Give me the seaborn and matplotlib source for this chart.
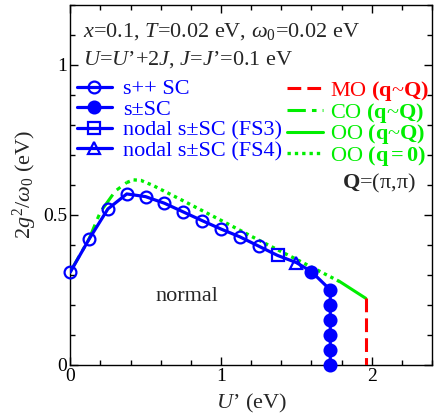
import matplotlib
matplotlib.use('Agg')
import matplotlib.pyplot as plt
from matplotlib.lines import Line2D
from matplotlib.ticker import MultipleLocator
import seaborn as sns
import pandas as pd

# superconducting phases (blue)
spp_x = [0, 0.125, 0.25, 0.375, 0.5, 0.625, 0.75, 0.875, 1.0, 1.125, 1.25]
spp_y = [0.309, 0.419, 0.52, 0.57, 0.561, 0.539, 0.51, 0.481, 0.453, 0.427, 0.396]
fs3_x = [1.375]
fs3_y = [0.365]
fs4_x = [1.5]
fs4_y = [0.341]
spm_x = [1.6, 1.725, 1.725, 1.725, 1.725, 1.725, 1.725]
spm_y = [0.311, 0.25, 0.2, 0.15, 0.1, 0.05, 0.0]

# orbital / charge / magnetic order boundaries
co_x = [0, 0.125, 0.2, 0.3, 0.375]
co_y = [0.31, 0.42, 0.51, 0.58, 0.608]
oo0_x = [0.375, 0.42, 0.47, 0.55, 0.75, 1.0, 1.25, 1.5, 1.79]
oo0_y = [0.608, 0.617, 0.615, 0.598, 0.547, 0.482, 0.416, 0.352, 0.277]
ooq_x = [1.79, 1.96]
ooq_y = [0.277, 0.222]
mo_x = [1.96, 1.96]
mo_y = [0.222, 0.0]

BLUE, GREEN, RED = '#0000ff', '#00ee00', '#ff0000'
DASH = (0, (4.5, 2))
DASHDOT = (0, (6, 2, 1.5, 2))
DOT = (0, (1, 1.2))

sns.set_theme(style='ticks')
plt.rcParams.update({
    'font.family': ['Liberation Serif', 'DejaVu Serif'],
    'mathtext.fontset': 'custom',
    'mathtext.rm': 'Liberation Serif',
    'mathtext.it': 'Liberation Serif:italic',
    'mathtext.bf': 'Liberation Serif:bold',
    'xtick.direction': 'in', 'ytick.direction': 'in',
    'xtick.top': True, 'ytick.right': True,
    'xtick.major.size': 6, 'ytick.major.size': 6,
    'xtick.minor.size': 3.5, 'ytick.minor.size': 3.5,
    'xtick.major.width': 1.0, 'ytick.major.width': 1.0,
    'xtick.minor.width': 1.0, 'ytick.minor.width': 1.0,
    'xtick.color': 'black', 'ytick.color': 'black',
    'axes.edgecolor': 'black', 'axes.linewidth': 1.0,
})

fig = plt.figure(figsize=(4.36, 4.17), dpi=100)
ax = fig.add_axes([0.161, 0.125, 0.83, 0.863])

# blue SC line, all points connected
sc_df = pd.DataFrame({'x': spp_x + fs3_x + fs4_x + spm_x,
                      'y': spp_y + fs3_y + fs4_y + spm_y})
sns.lineplot(data=sc_df, x='x', y='y', sort=False, estimator=None,
             color=BLUE, lw=2.3, ax=ax, zorder=4)

sns.lineplot(x=co_x, y=co_y, sort=False, estimator=None, color=GREEN,
             lw=2.2, ax=ax, zorder=3).lines[-1].set_linestyle(DASHDOT)
sns.lineplot(x=oo0_x, y=oo0_y, sort=False, estimator=None, color=GREEN,
             lw=2.4, ax=ax, zorder=3).lines[-1].set_linestyle(DOT)
sns.lineplot(x=ooq_x, y=ooq_y, sort=False, estimator=None, color=GREEN,
             lw=2.2, ax=ax, zorder=3)
sns.lineplot(x=mo_x, y=mo_y, sort=False, estimator=None, color=RED,
             lw=2.2, ax=ax, zorder=3).lines[-1].set_linestyle(DASH)

mk = dict(color=BLUE, ms=8.5, mew=1.6, ls='none', zorder=5, clip_on=False)
ax.plot(spp_x, spp_y, marker='o', mfc='none', **mk)
ax.plot(fs3_x, fs3_y, marker='s', mfc='none', **mk)
ax.plot(fs4_x, fs4_y, marker='^', mfc='none', **mk)
ax.plot(spm_x, spm_y, marker='o', mfc=BLUE, **mk)

ax.set_xlim(0, 2.4)
ax.set_ylim(0, 1.2)
ax.xaxis.set_major_locator(MultipleLocator(1))
ax.xaxis.set_minor_locator(MultipleLocator(0.2))
ax.yaxis.set_major_locator(MultipleLocator(0.5))
ax.yaxis.set_minor_locator(MultipleLocator(0.1))
ax.xaxis.set_major_formatter(plt.FuncFormatter(lambda v, p: f'{v:g}'))
ax.yaxis.set_major_formatter(plt.FuncFormatter(lambda v, p: f'{v:g}'))
ax.tick_params(which='both', direction='in', top=True, right=True,
               labelsize=14, color='black', labelcolor='black', width=1.0, pad=2)
ax.tick_params(which='major', length=6)
ax.tick_params(which='minor', length=3.5)
for s in ax.spines.values():
    s.set_linewidth(1.0)
    s.set_color('black')

ax.set_xlabel("$U$’ (eV)", fontsize=16, labelpad=5)
ax.set_ylabel(r"2$g^2$/$\omega_0$ (eV)", fontsize=16, labelpad=3)

ax.text(0.035, 0.925, r"$x$=0.1, $T$=0.02 eV, $\omega_0$=0.02 eV",
        transform=ax.transAxes, fontsize=16, va='center')
ax.text(0.035, 0.848, "$U$=$U$’+2$J$, $J$=$J$’=0.1 eV",
        transform=ax.transAxes, fontsize=16, va='center')
ax.text(0.955, 0.505, r"$\mathbf{Q}$=(π,π)", transform=ax.transAxes,
        fontsize=16, ha='right', va='center')
ax.text(0.323, 0.189, "normal", transform=ax.transAxes, fontsize=16,
        ha='center', va='center')

hl = dict(color=BLUE, lw=2.3, ms=8.5, mew=1.6)
left_h = [Line2D([], [], marker='o', mfc='none', **hl),
          Line2D([], [], marker='o', mfc=BLUE, **hl),
          Line2D([], [], marker='s', mfc='none', **hl),
          Line2D([], [], marker='^', mfc='none', **hl)]
left_l = ['s++ SC', 's±SC', 'nodal s±SC (FS3)', 'nodal s±SC (FS4)']
leg1 = ax.legend(left_h, left_l, loc='upper left', bbox_to_anchor=(0.018, 0.795),
                 frameon=False, fontsize=16, labelcolor=BLUE, handlelength=1.6,
                 handletextpad=0.5, labelspacing=0.0, borderpad=0, borderaxespad=0)
ax.add_artist(leg1)

right_h = [Line2D([], [], color=RED, lw=2.2, ls=DASH),
           Line2D([], [], color=GREEN, lw=2.2, ls=DASHDOT),
           Line2D([], [], color=GREEN, lw=2.2),
           Line2D([], [], color=GREEN, lw=2.4, ls=DOT)]
right_l = [r"MO $\mathbf{(q}$~$\mathbf{Q)}$", r"CO $\mathbf{(q}$~$\mathbf{Q)}$",
           r"OO $\mathbf{(q}$~$\mathbf{Q)}$", r"OO $\mathbf{(q=0)}$"]
ax.legend(right_h, right_l, loc='upper left', bbox_to_anchor=(0.6, 0.795),
          frameon=False, fontsize=16, labelcolor=[RED, GREEN, GREEN, GREEN],
          handlelength=1.6, handletextpad=0.3, labelspacing=-0.1, borderpad=0,
          borderaxespad=0)

fig.savefig('out.png', dpi=100)
